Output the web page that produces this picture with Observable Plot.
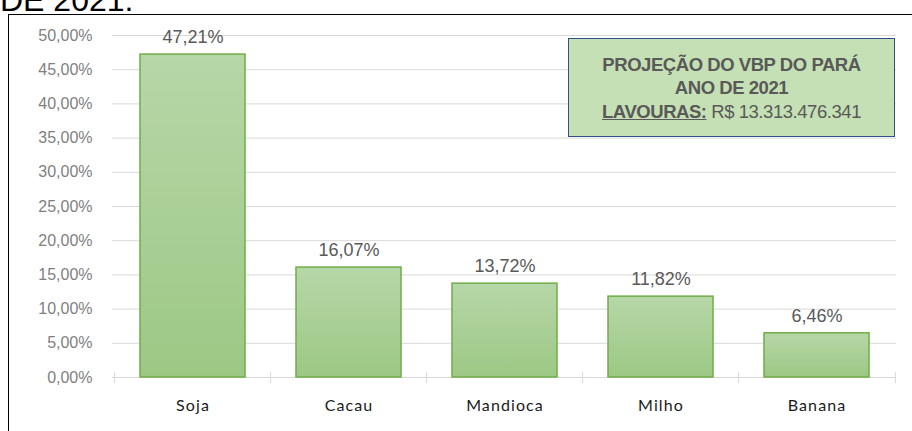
<!DOCTYPE html>
<html>
<head>
<meta charset="utf-8">
<script src="https://cdn.jsdelivr.net/npm/d3@7"></script>
<script src="https://cdn.jsdelivr.net/npm/@observablehq/plot@0.6"></script>
<style>
  html, body { margin: 0; padding: 0; background: #fff; overflow: hidden; }
  #wrap { position: relative; width: 912px; height: 431px; overflow: hidden; font-family: "Liberation Sans", Arial, sans-serif; }
  #title { position: absolute; left: 0; top: -16px; font-size: 32px; line-height: 32px; color: #000; white-space: nowrap; }
  #frame { position: absolute; left: 8px; top: 14px; width: 1000px; height: 1000px; border: 1.5px solid #000; box-sizing: border-box; }
  #chart { position: absolute; left: 0; top: 0; }
  #note { position: absolute; left: 568px; top: 38px; width: 327px; height: 99px; box-sizing: border-box;
          background: #c5e0b4; border: 1.5px solid #2f528f; padding-top: 14px; text-align: center;
          color: #595959; font-size: 18.5px; line-height: 23.3px; letter-spacing: -0.45px; font-weight: bold; }
  #note .u { text-decoration: underline; }
  #note .r { font-weight: normal; }
  .xlab text { letter-spacing: 1.1px; }
</style>
</head>
<body>
<div id="wrap">
  <div id="title">DE 2021.</div>
  <div id="frame"></div>
  <div id="chart"></div>
  <div id="note">
    <div>PROJEÇÃO DO VBP DO PARÁ</div>
    <div>ANO DE 2021</div>
    <div><span class="u">LAVOURAS:</span><span class="r"> R$ 13.313.476.341</span></div>
  </div>
</div>
<script>
const categories = ["Soja", "Cacau", "Mandioca", "Milho", "Banana"];
const values = [47.21, 16.07, 13.72, 11.82, 6.46];
const valueLabels = ["47,21%", "16,07%", "13,72%", "11,82%", "6,46%"];
const yTickValues = [0, 5, 10, 15, 20, 25, 30, 35, 40, 45, 50];
const yTickLabels = ["0,00%", "5,00%", "10,00%", "15,00%", "20,00%", "25,00%", "30,00%", "35,00%", "40,00%", "45,00%", "50,00%"];

const data = categories.map((c, i) => ({cat: c, value: values[i], label: valueLabels[i]}));
const lastCat = [categories[categories.length - 1]];

const W = 912, H = 431;
const mL = 112, mR = 16;
const step = (W - mL - mR) / categories.length;

function gradientDefs() {
  const ns = "http://www.w3.org/2000/svg";
  const defs = document.createElementNS(ns, "defs");
  const g = document.createElementNS(ns, "linearGradient");
  g.setAttribute("id", "barGrad");
  g.setAttribute("x1", "0"); g.setAttribute("y1", "0");
  g.setAttribute("x2", "0"); g.setAttribute("y2", "1");
  [["0%", "#b6d7a8"], ["100%", "#9cc884"]].forEach(([o, c]) => {
    const s = document.createElementNS(ns, "stop");
    s.setAttribute("offset", o); s.setAttribute("stop-color", c);
    g.appendChild(s);
  });
  defs.appendChild(g);
  return defs;
}

const chart = Plot.plot({
  width: W,
  height: H,
  marginLeft: mL,
  marginRight: mR,
  marginTop: 35,
  marginBottom: 54,
  style: {fontFamily: "'Liberation Sans', Arial, sans-serif", background: "transparent", overflow: "visible"},
  x: {domain: categories, paddingInner: 0.33, paddingOuter: 0.165, axis: null, label: null},
  y: {domain: [0, 50], axis: null, label: null},
  marks: [
    gradientDefs,
    Plot.ruleY(yTickValues, {stroke: "#d9d9d9", strokeWidth: 1}),
    Plot.ruleX(categories, {x: d => d, dx: -step / 2, y1: 0.75, y2: -0.9, stroke: "#d9d9d9", strokeWidth: 1}),
    Plot.ruleX(lastCat, {x: d => d, dx: step / 2, y1: 0.75, y2: -0.9, stroke: "#d9d9d9", strokeWidth: 1}),
    Plot.axisY({ticks: yTickValues, tickFormat: d => yTickLabels[yTickValues.indexOf(d)], tickSize: 0, tickPadding: 20, fontSize: 16, fill: "#7f7f7f", label: null}),
    Plot.axisX({tickSize: 0, tickPadding: 22, fontSize: 16, fill: "#1a1a1a", fontFamily: "Lato, 'Open Sans', sans-serif", className: "xlab", label: null}),
    Plot.barY(data, {x: "cat", y: "value", fill: "url(#barGrad)", stroke: "#70ad47", strokeWidth: 1.5}),
    Plot.text(data, {x: "cat", y: "value", text: "label", lineAnchor: "bottom", dy: -11.5, fontSize: 18, fill: "#595959"})
  ]
});
document.getElementById("chart").appendChild(chart);
</script>
</body>
</html>
